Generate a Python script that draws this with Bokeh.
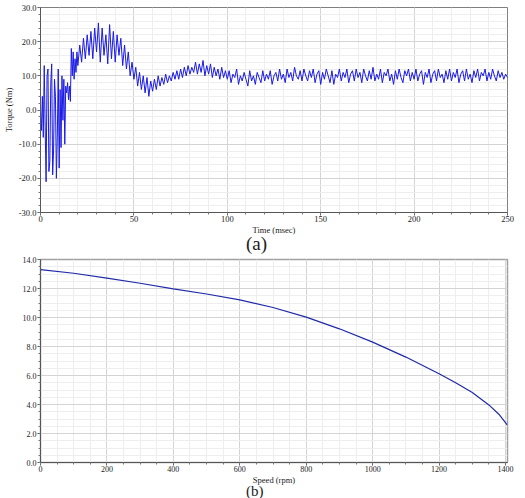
from bokeh.plotting import figure
from bokeh.layouts import column
from bokeh.models import Range1d, FixedTicker, PrintfTickFormatter, Div
from bokeh.embed import file_html
from bokeh.resources import INLINE

# ---------------- data: (a) torque vs time ----------------
time_early_ms = [i * 0.5 for i in range(41)]          # 0 .. 20 ms sampling grid
torque_early_nm = [0.0, -6, 4, -8, 13, -5, -21, 10, 12, -18, -15, 8, 13.5, -19, -12, 9, 4,
                   -20, -8, 12, -17, 6, -11, 10, -3, 9, -10, 7, 5, 8, 3, 7, 2.5, 18, 10, 17,
                   9, 15, 11, 17, 13]
time_late_ms = list(range(21, 251))                   # 21 .. 250 ms sampling grid
torque_late_nm = [
    19, 14, 21, 15, 22, 16, 23, 15, 24, 17,
    25.5, 14, 24, 16, 22, 13.5, 25, 15, 23, 14,
    22, 16, 21, 13, 19, 12, 17, 10, 14, 9,
    12.5, 7, 11, 6, 10, 5, 9.5, 4, 8.5, 5.5,
    9, 6, 10, 7, 9.5, 7.5, 10.5, 8, 10, 8.5,
    11, 9, 11.5, 9, 12, 9.5, 12.5, 10, 13, 10.5,
    12.5, 11, 14, 10.5, 13.5, 11, 14.5, 10, 13, 10.5,
    13.5, 9.5, 12.5, 10, 12, 9, 12.5, 9.5, 11.5, 9,
    11.5, 8, 10.5, 9.5, 12, 7.5, 10, 8.5, 11, 9,
    7, 11.5, 8.5, 10, 7.5, 11, 9.5, 8, 11.5, 8.5,
    10.5, 9, 11.5, 7.5, 10, 11, 8.5, 12, 9, 10.5,
    8, 12, 9.5, 11, 8.5, 12.5, 10, 9, 11.5, 8.5,
    12, 10, 8.5, 11.5, 9.5, 12, 8, 10.5, 11.5, 7.5,
    11, 9, 12, 10, 8, 11.5, 7.5, 10.5, 9.5, 12,
    8.5, 11, 9.5, 12, 8, 10.5, 11.5, 8.5, 12, 9.5,
    11, 8, 12, 10, 8.5, 11.5, 9, 12.5, 8.5, 10.5,
    9, 12, 8, 11, 10, 12, 8.5, 10.5, 7.5, 11.5,
    9, 12, 9.5, 8, 11.5, 10, 12, 8.5, 11, 9,
    12, 8.5, 10.5, 11.5, 7.5, 11, 9.5, 12, 8, 10.5,
    11.5, 8.5, 12, 9.5, 10.5, 8, 11.5, 9, 12, 8.5,
    11, 9.5, 12, 8, 10.5, 11.5, 8.5, 12, 9, 10.5,
    8, 11.5, 9.5, 12, 8.5, 11, 10, 12, 8.5, 11,
    9, 12, 10, 8.5, 11.5, 9.5, 11, 9, 10.5, 9.5,
]
time_ms = time_early_ms + time_late_ms
torque_nm = torque_early_nm + torque_late_nm

time_ticks = [0, 50, 100, 150, 200, 250]
torque_ticks_a = [-30, -20, -10, 0, 10, 20, 30]

# ---------------- data: (b) torque vs speed ----------------
speed_rpm = [0, 100, 200, 300, 400, 500, 600, 700, 800, 900, 1000, 1100,
             1200, 1250, 1300, 1350, 1380, 1405]
torque_speed_nm = [13.3, 13.05, 12.72, 12.36, 11.97, 11.62, 11.22, 10.69, 10.03, 9.22,
                   8.3, 7.27, 6.12, 5.5, 4.83, 3.97, 3.33, 2.6]
speed_ticks = [0, 200, 400, 600, 800, 1000, 1200, 1400]
torque_ticks_b = [0, 2, 4, 6, 8, 10, 12, 14]

FONT = "Liberation Serif"
CSS_FONT = "'Liberation Serif', 'Times New Roman', 'DejaVu Serif', serif"


def style(p, xt, xminor, yt, yminor, yfmt, tick_size):
    p.background_fill_color = "white"
    p.border_fill_color = "white"
    p.xaxis.ticker = FixedTicker(ticks=xt, minor_ticks=xminor)
    p.yaxis.ticker = FixedTicker(ticks=yt, minor_ticks=yminor)
    p.yaxis.formatter = PrintfTickFormatter(format=yfmt)
    for ax in list(p.xaxis) + list(p.yaxis):
        ax.axis_line_color = "#555555"
        ax.major_tick_line_color = "#555555"
        ax.minor_tick_line_color = "#777777"
        ax.major_tick_in = 0
        ax.major_tick_out = 3
        ax.minor_tick_in = 0
        ax.minor_tick_out = 2
        ax.major_label_text_font = FONT
        ax.major_label_text_font_size = tick_size
        ax.major_label_text_color = "#222222"
        ax.major_label_standoff = 1
        ax.axis_label_text_font = FONT
        ax.axis_label_text_font_size = "8.5px"
        ax.axis_label_text_font_style = "normal"
        ax.axis_label_text_color = "#222222"
        ax.axis_label_standoff = 0
    p.xaxis.major_label_standoff = 0
    for g in (p.xgrid, p.ygrid):
        g.grid_line_color = "#d4d4d4"
        g.minor_grid_line_color = "#eeeeee"


def caption(text, height, top_shift, size):
    html = ('<span style="position:absolute; top:%dpx; left:246px; '
            'font-family:%s; font-size:%dpx; line-height:%dpx; '
            'color:#222222; white-space:nowrap;">%s</span>'
            % (top_shift, CSS_FONT, size, size, text))
    return Div(text=html, width=525, height=height, margin=0,
               styles={"overflow": "visible", "position": "relative", "z-index": "10",
                       "font-family": CSS_FONT})


# ---------------- figure (a) ----------------
pa = figure(width=525, height=240, output_backend="svg", toolbar_location=None,
            x_range=Range1d(0, 250), y_range=Range1d(-30, 30),
            min_border_left=35, min_border_right=18, min_border_top=7, min_border_bottom=28)
pa.line(time_ms, torque_nm, line_color="#1a1ae6", line_width=1)
style(pa, time_ticks, list(range(0, 251, 10)), torque_ticks_a, list(range(-30, 31, 2)),
      "%.1f", "8.5px")
pa.xaxis.axis_label = "Time (msec)"
pa.yaxis.axis_label = "Torque (Nm)"
pa.yaxis.axis_label_standoff = 2
pa.outline_line_color = "#7f7f7f"

# ---------------- figure (b) ----------------
pb = figure(width=525, height=236, output_backend="svg", toolbar_location=None,
            x_range=Range1d(0, 1406), y_range=Range1d(0, 14),
            min_border_left=18, min_border_right=6, min_border_top=5, min_border_bottom=28)
pb.line(speed_rpm, torque_speed_nm, line_color="#1f2aa8", line_width=1.2)
style(pb, speed_ticks, list(range(0, 1401, 50)), torque_ticks_b,
      [i * 0.5 for i in range(29)], "%.1f", "8px")
pb.xaxis.axis_label = "Speed (rpm)"
pb.outline_line_color = "#a0a0a0"
pb.outline_line_width = 1.5

cap_a = caption("(a)", 14, -6, 19)
cap_b = caption("(b)", 8, -6, 15)

layout = column(pa, cap_a, pb, cap_b, spacing=0)
open("out.html", "w").write(file_html(layout, INLINE))
